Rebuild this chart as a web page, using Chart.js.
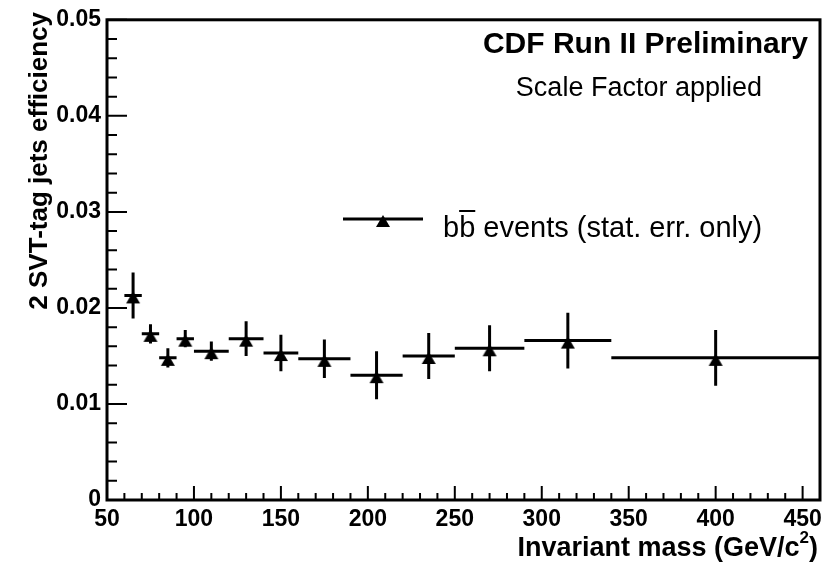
<!DOCTYPE html>
<html>
<head>
<meta charset="utf-8">
<script src="https://cdn.jsdelivr.net/npm/chart.js@4.4.1/dist/chart.umd.min.js"></script>
<style>
  body { margin: 0; background: #fff; }
</style>
</head>
<body>
<canvas id="effChart" width="829" height="564"></canvas>
<script>
// bin edges, centres, efficiency and stat. errors
const binLow      = [60, 70, 80, 90, 100, 120, 140, 160, 190, 220, 250, 290, 340];
const binHigh     = [70, 80, 90, 100, 120, 140, 160, 190, 220, 250, 290, 340, 460];
const massCenters = [65, 75, 85, 95, 110, 130, 150, 175, 205, 235, 270, 315, 400];
const efficiency  = [0.0213, 0.0173, 0.0148, 0.0168, 0.0155, 0.0168, 0.0153, 0.0147, 0.0130, 0.0150, 0.0158, 0.0166, 0.0148];
const statErr     = [0.0024, 0.0010, 0.0010, 0.0009, 0.0010, 0.0018, 0.0019, 0.0020, 0.0025, 0.0024, 0.0024, 0.0029, 0.0029];

const xTicks = [50, 100, 150, 200, 250, 300, 350, 400, 450];
const yTicks = [0, 0.01, 0.02, 0.03, 0.04, 0.05];

const FONT = "'Liberation Sans', Arial, Helvetica, sans-serif";

// ROOT-style filled triangle (tip a bit above the value, base further below)
function makeTriangle() {
    const c = document.createElement('canvas');
    c.width = 16; c.height = 18;
    const g = c.getContext('2d');
    g.fillStyle = '#000';
    g.beginPath();
    g.moveTo(8, 5);
    g.lineTo(15, 17);
    g.lineTo(1, 17);
    g.closePath();
    g.fill();
    return c;
}
const triangle = makeTriangle();

const errorBars = {
    id: 'errorBars',
    beforeDatasetsDraw(chart) {
        const { ctx, scales: { x, y } } = chart;
        ctx.save();
        ctx.strokeStyle = '#000';
        ctx.lineWidth = 3;
        ctx.beginPath();
        massCenters.forEach((m, i) => {
            const py = y.getPixelForValue(efficiency[i]);
            ctx.moveTo(x.getPixelForValue(binLow[i]), py);
            ctx.lineTo(x.getPixelForValue(binHigh[i]), py);
            const px = x.getPixelForValue(m);
            ctx.moveTo(px, y.getPixelForValue(efficiency[i] + statErr[i]));
            ctx.lineTo(px, y.getPixelForValue(efficiency[i] - statErr[i]));
        });
        ctx.stroke();
        ctx.restore();
    }
};

const frameAndText = {
    id: 'frameAndText',
    afterDraw(chart) {
        const { ctx, chartArea: a, scales: { x, y } } = chart;
        ctx.save();
        ctx.strokeStyle = '#000';
        ctx.fillStyle = '#000';

        // ticks pointing inwards
        ctx.lineWidth = 2;
        ctx.beginPath();
        for (let k = 0; k <= 25; k++) {
            const py = y.getPixelForValue(k * 0.002);
            ctx.moveTo(a.left, py);
            ctx.lineTo(a.left + (k % 5 === 0 ? 20 : 10), py);
        }
        for (let v = 50; v <= 460; v += 10) {
            const px = x.getPixelForValue(v);
            ctx.moveTo(px, a.bottom);
            ctx.lineTo(px, a.bottom - (v % 50 === 0 ? 14 : 7));
        }
        ctx.stroke();

        // frame
        ctx.lineWidth = 3;
        ctx.strokeRect(a.left, a.top, a.right - a.left, a.bottom - a.top);

        // y title
        ctx.save();
        ctx.translate(47, 12);
        ctx.rotate(-Math.PI / 2);
        ctx.font = 'bold 26px ' + FONT;
        ctx.textAlign = 'right';
        ctx.textBaseline = 'alphabetic';
        ctx.fillText('2 SVT-tag jets efficiency', 0, 0);
        ctx.restore();

        // x title with superscript
        ctx.textBaseline = 'alphabetic';
        ctx.textAlign = 'left';
        const main = 'Invariant mass (GeV/c';
        ctx.font = 'bold 27px ' + FONT;
        const wMain = ctx.measureText(main).width;
        const wParen = ctx.measureText(')').width;
        ctx.font = 'bold 17px ' + FONT;
        const wSup = ctx.measureText('2').width;
        let tx = 818 - wMain - wSup - wParen;
        ctx.font = 'bold 27px ' + FONT;
        ctx.fillText(main, tx, 556);
        ctx.font = 'bold 17px ' + FONT;
        ctx.fillText('2', tx + wMain, 543);
        ctx.font = 'bold 27px ' + FONT;
        ctx.fillText(')', tx + wMain + wSup, 556);

        // labels
        ctx.textAlign = 'right';
        ctx.font = 'bold 30px ' + FONT;
        ctx.fillText('CDF Run II Preliminary', 808, 53);
        ctx.font = '27px ' + FONT;
        ctx.fillText('Scale Factor applied', 762, 96);

        // legend
        ctx.lineWidth = 3;
        ctx.beginPath();
        ctx.moveTo(343, 219);
        ctx.lineTo(423, 219);
        ctx.stroke();
        ctx.drawImage(triangle, 383 - 8, 219 - 9);
        ctx.textAlign = 'left';
        ctx.font = '29px ' + FONT;
        const wb = ctx.measureText('b').width;
        ctx.fillText('bb events (stat. err. only)', 443, 237);
        ctx.lineWidth = 2;
        ctx.beginPath();
        ctx.moveTo(443 + wb, 211);
        ctx.lineTo(443 + 2 * wb, 211);
        ctx.stroke();

        ctx.restore();
    }
};

const tickFont = { family: FONT, weight: 'bold', size: 23 };

new Chart(document.getElementById('effChart'), {
    type: 'scatter',
    data: {
        datasets: [{
            label: 'bb events (stat. err. only)',
            data: massCenters.map((m, i) => ({ x: m, y: efficiency[i] })),
            pointStyle: triangle,
            pointRadius: 8,
            backgroundColor: '#000',
            borderColor: '#000'
        }]
    },
    options: {
        responsive: false,
        animation: false,
        devicePixelRatio: 1,
        layout: { padding: { top: 15, right: 9, left: 0, bottom: 0 } },
        plugins: {
            legend: { display: false },
            tooltip: { enabled: false }
        },
        scales: {
            x: {
                type: 'linear',
                min: 50,
                max: 460,
                grid: { display: false, drawTicks: false },
                border: { display: false },
                ticks: { font: tickFont, color: '#000', padding: 6, maxRotation: 0, autoSkip: false },
                afterBuildTicks: s => { s.ticks = xTicks.map(v => ({ value: v })); },
                afterFit: s => { s.height = 64; }
            },
            y: {
                min: 0,
                max: 0.05,
                grid: { display: false, drawTicks: false },
                border: { display: false },
                ticks: {
                    font: tickFont,
                    color: '#000',
                    padding: 6,
                    callback: v => v === 0 ? '0' : v.toFixed(2)
                },
                afterBuildTicks: s => { s.ticks = yTicks.map(v => ({ value: v })); },
                afterFit: s => { s.width = 107; }
            }
        }
    },
    plugins: [errorBars, frameAndText]
});
</script>
</body>
</html>
